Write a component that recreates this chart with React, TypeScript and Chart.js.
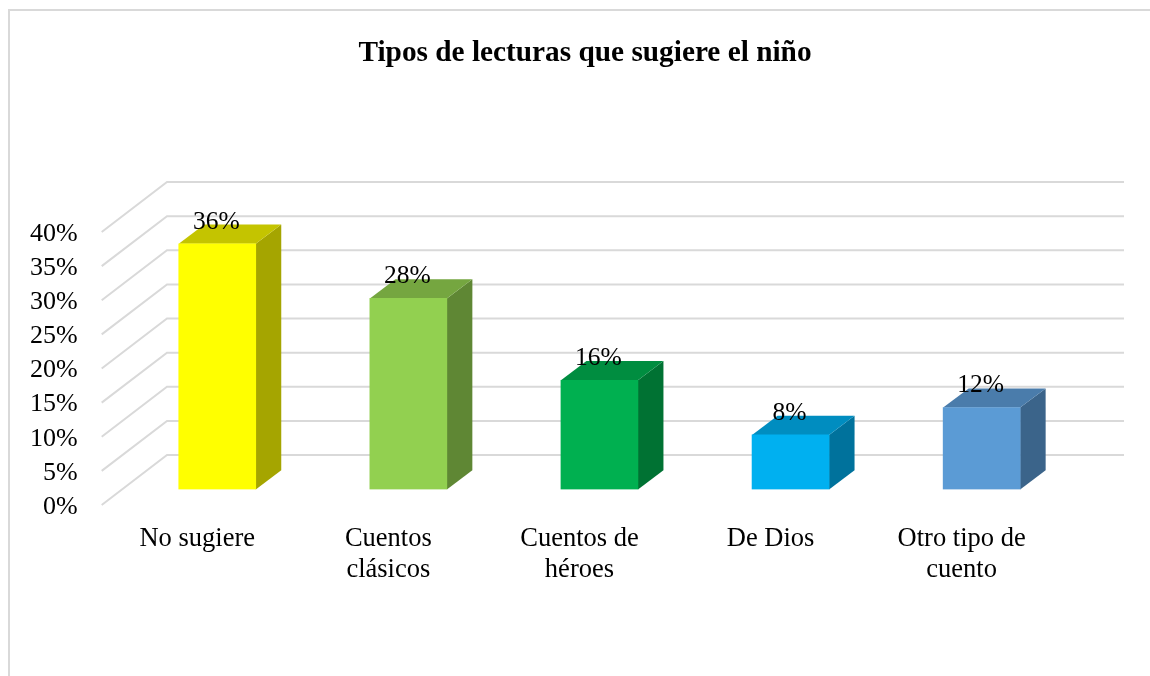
import React, { useEffect, useRef } from "react";
import { Chart, registerables } from "chart.js";

Chart.register(...registerables);

const TITLE = "Tipos de lecturas que sugiere el niño";
const categories: (string | string[])[] = [
  "No sugiere",
  ["Cuentos", "clásicos"],
  ["Cuentos de", "héroes"],
  "De Dios",
  ["Otro tipo de", "cuento"],
];
const values = [36, 28, 16, 8, 12];
const frontColors = ["#FFFF00", "#92D050", "#00B050", "#00B0F0", "#5B9BD5"];
const topColors = ["#C4C400", "#75A640", "#008D40", "#008DC0", "#4A7CAB"];
const sideColors = ["#A5A500", "#5F8734", "#007233", "#00729C", "#3B648A"];

const FONT = "'Liberation Serif', 'Times New Roman', serif";
const GRID = "#D9D9D9";
// Oblique projection of the 3D chart: wall depth, and the bars' place and depth within it.
const WALL_DX = 65.3;
const WALL_DY = 50;
const WALL_OVERHANG = 1.5;
const BAR_DX = 20;
const BAR_DY = 15.5;
const DEPTH_DX = 25.5;
const DEPTH_DY = 19.2;
const Y_LABEL_SHIFT = 2;

const frame3d = {
  id: "frame3d",
  afterLayout(chart: any) {
    for (const item of chart.scales.y.getLabelItems()) {
      item.options.translation[1] += Y_LABEL_SHIFT;
    }
  },
  beforeDatasetsDraw(chart: any) {
    const { ctx, scales, chartArea } = chart;
    ctx.save();
    // card outline (top and left edges only)
    ctx.strokeStyle = GRID;
    ctx.lineWidth = 2;
    ctx.beginPath();
    ctx.moveTo(9, 676);
    ctx.lineTo(9, 10);
    ctx.lineTo(1150, 10);
    ctx.stroke();
    // walls
    for (const tick of scales.y.ticks) {
      const y = scales.y.getPixelForValue(tick.value);
      ctx.beginPath();
      ctx.moveTo(chartArea.left, y);
      ctx.lineTo(chartArea.left + WALL_DX, y - WALL_DY);
      ctx.lineTo(chartArea.right + WALL_DX + WALL_OVERHANG, y - WALL_DY);
      ctx.stroke();
    }
    ctx.restore();
  },
  beforeDatasetDraw(chart: any) {
    const { ctx } = chart;
    ctx.save();
    ctx.translate(BAR_DX, -BAR_DY);
    chart.getDatasetMeta(0).data.forEach((bar: any, i: number) => {
      const { x, y, base, width } = bar.getProps(["x", "y", "base", "width"], true);
      const r = x + width / 2;
      const l = x - width / 2;
      ctx.fillStyle = sideColors[i];
      ctx.beginPath();
      ctx.moveTo(r, y);
      ctx.lineTo(r + DEPTH_DX, y - DEPTH_DY);
      ctx.lineTo(r + DEPTH_DX, base - DEPTH_DY);
      ctx.lineTo(r, base);
      ctx.closePath();
      ctx.fill();
      ctx.fillStyle = topColors[i];
      ctx.beginPath();
      ctx.moveTo(l, y);
      ctx.lineTo(l + DEPTH_DX, y - DEPTH_DY);
      ctx.lineTo(r + DEPTH_DX, y - DEPTH_DY);
      ctx.lineTo(r, y);
      ctx.closePath();
      ctx.fill();
    });
  },
  afterDatasetDraw(chart: any) {
    chart.ctx.restore();
  },
  afterDatasetsDraw(chart: any) {
    const { ctx } = chart;
    ctx.save();
    ctx.font = `25.5px ${FONT}`;
    ctx.fillStyle = "#000";
    ctx.textAlign = "center";
    ctx.textBaseline = "middle";
    chart.getDatasetMeta(0).data.forEach((bar: any, i: number) => {
      const { x, y } = bar.getProps(["x", "y"], true);
      ctx.fillText(`${values[i]}%`, x + BAR_DX - 1, y - BAR_DY - 22);
    });
    ctx.restore();
  },
};

export default function App() {
  const ref = useRef<HTMLCanvasElement>(null);
  useEffect(() => {
    if (!ref.current) return;
    const chart = new Chart(ref.current, {
      type: "bar",
      data: {
        labels: categories,
        datasets: [{ data: values, backgroundColor: frontColors, barThickness: 77 }],
      },
      options: {
        responsive: false,
        animation: false,
        layout: { padding: { left: 20, right: 0, top: 0, bottom: 0 } },
        plugins: {
          legend: { display: false },
          tooltip: { enabled: false },
          title: {
            display: true,
            text: TITLE,
            color: "#000",
            font: { family: FONT, size: 29.3, weight: "bold", lineHeight: 1.2 },
            padding: { top: 35.4, bottom: 161.44 },
          },
        },
        scales: {
          x: {
            grid: { display: false },
            border: { display: false },
            afterFit: (s: any) => { s.height = 171; },
            ticks: {
              color: "#000",
              maxRotation: 0,
              autoSkip: false,
              padding: 11,
              font: { family: FONT, size: 26.5, lineHeight: 1.15 },
            },
          },
          y: {
            min: 0,
            max: 40,
            grid: { display: false, drawTicks: false },
            border: { display: false },
            afterFit: (s: any) => { s.width = 81.7; },
            ticks: {
              stepSize: 5,
              autoSkip: false,
              color: "#000",
              padding: 24,
              font: { family: FONT, size: 26 },
              callback: (v: any) => `${v}%`,
            },
          },
          yRight: {
            position: "right",
            display: true,
            grid: { display: false, drawTicks: false },
            border: { display: false },
            ticks: { display: false },
            afterFit: (s: any) => { s.width = 92.8; },
          },
        },
      },
      plugins: [frame3d],
    } as any);
    return () => chart.destroy();
  }, []);
  return (
    <canvas
      ref={ref}
      width={1150}
      height={676}
      style={{ position: "absolute", left: 0, top: 0, width: 1150, height: 676, background: "#fff" }}
    />
  );
}
